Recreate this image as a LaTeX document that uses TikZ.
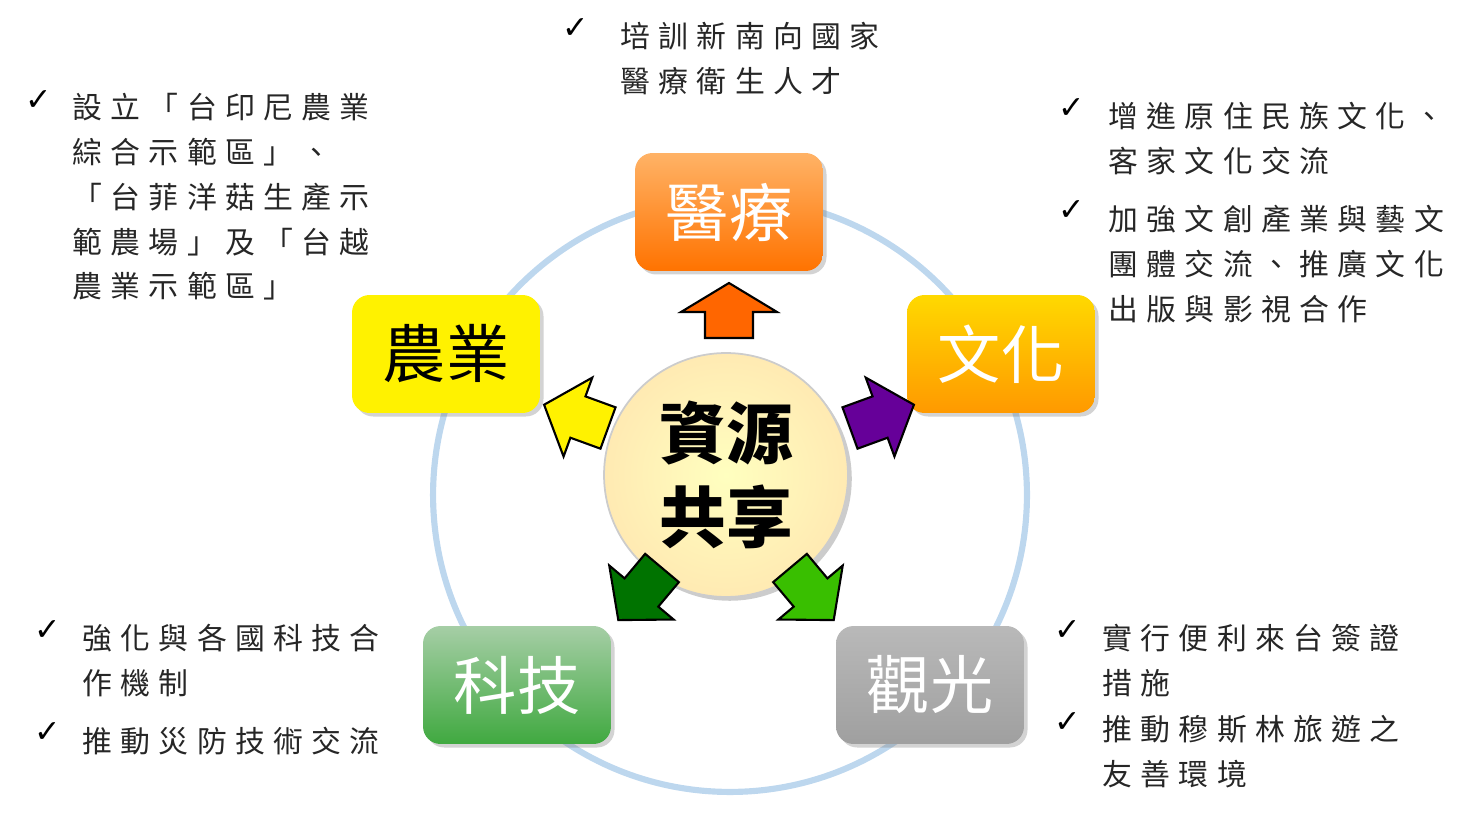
\documentclass[tikz,border=0pt]{standalone}
\usepackage{fontspec}
\newfontfamily\cjk[LetterSpace=28]{Noto Sans CJK TC}
\newfontfamily\cjkb{Noto Sans CJK TC}
\newfontfamily\sym{DejaVu Sans}
\usetikzlibrary{shadows}
\definecolor{ring}{HTML}{BDD7EE}
\tikzset{
  box/.style={rounded corners=10pt,minimum width=3.76cm,minimum height=2.36cm,
    drop shadow={opacity=.35,shadow xshift=2pt,shadow yshift=-2pt},
    font=\cjkb\fontsize{36}{40}\selectfont,text=white},
  arr/.style={draw=black,line width=1.2pt,line join=miter},
  note/.style={anchor=north west,inner sep=0pt,align=left,text=black!85,
    font=\cjk\fontsize{17}{25.5}\selectfont},
  tick/.style={anchor=north west,inner sep=0pt,font=\sym\fontsize{18}{20}\selectfont}
}
\begin{document}
\begin{tikzpicture}[x=0.02cm,y=-0.02cm]
  \useasboundingbox (0,0) rectangle (1466,820);
  \draw[ring,line width=3.5pt] (730,495) circle (5.94cm);
  % centre
  \node[circle,minimum size=4.88cm,shading=radial,inner color=yellow!25,outer color=yellow!45!orange!30,
    draw=gray!40,line width=1pt,drop shadow={opacity=.4},align=center,
    font=\cjkb\bfseries\fontsize{38}{48}\selectfont] (hub) at (726,475) {資源\\共享};
  % fields
  \node[box,top color=orange!60,bottom color=orange!90!red] (med) at (729,212) {醫療};
  \node[box,top color=yellow!70!orange,bottom color=orange!80!yellow] (cul) at (1001,354) {文化};
  \node[box,fill=yellow,text=black] (agr) at (446,354) {農業};
  \node[box,top color=green!45!black!35!white,bottom color=green!55!black!75] (tec) at (517,685) {科技};
  \node[box,top color=gray!55,bottom color=gray!75] (tou) at (930,685) {觀光};
  % arrows
  \draw[arr,fill=orange!80!red,shift={(729,338)},rotate=90]
    (0,-24) -- (26,-24) -- (26,-48) -- (55,0) -- (26,48) -- (26,24) -- (0,24) -- cycle;
  \foreach \c/\x/\y/\a in {yellow/608/428/160, violet!80!blue/850/428/20,
      green!45!black/662/568/-130, green!60!lime!75!black/790/568/-50}{
    \draw[arr,fill=\c,shift={(\x,\y)},rotate=\a]
      (0,-22) -- (32,-22) -- (32,-42) -- (68,0) -- (32,42) -- (32,22) -- (0,22) -- cycle;
  }
  % notes
  \node[tick] (t1) at (562,18) {✓};
  \node[note] (n1) at (620,22) {培訓新南向國家\\醫療衛生人才};
  \node[tick] (t2) at (25,90) {✓};
  \node[note] (n2) at (72,93) {設立「台印尼農業\\綜合示範區」、\\「台菲洋菇生產示\\範農場」及「台越\\農業示範區」};
  \node[tick] (t3) at (1058,98) {✓};
  \node[note] (n3) at (1108,102) {增進原住民族文化、\\客家文化交流};
  \node[tick] (t4) at (1058,200) {✓};
  \node[note] (n4) at (1108,205) {加強文創產業與藝文\\團體交流、推廣文化\\出版與影視合作};
  \node[tick] (t5) at (34,620) {✓};
  \node[note] (n5) at (82,624) {強化與各國科技合\\作機制};
  \node[tick] (t6) at (34,722) {✓};
  \node[note] (n6) at (82,727) {推動災防技術交流};
  \node[tick] (t7) at (1054,620) {✓};
  \node[note] (n7) at (1102,624) {實行便利來台簽證\\措施};
  \node[tick] (t8) at (1054,712) {✓};
  \node[note] (n8) at (1102,715) {推動穆斯林旅遊之\\友善環境};
\end{tikzpicture}
\end{document}
